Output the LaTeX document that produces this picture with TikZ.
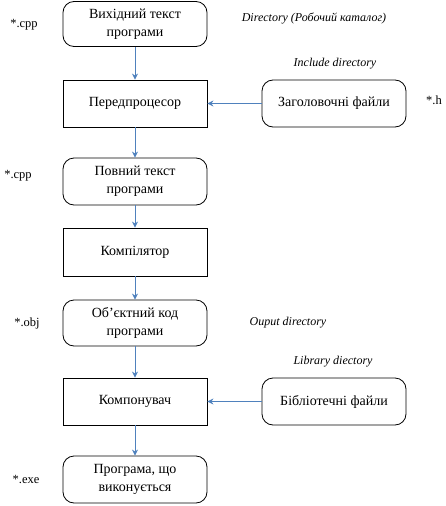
\documentclass[tikz,border=0pt]{standalone}
\usepackage{fontspec}
\newfontfamily\timesf{LiberationSerif-Regular.ttf}[ItalicFont=LiberationSerif-Italic.ttf]
\usetikzlibrary{arrows.meta}
\definecolor{arrowblue}{HTML}{4F81BD}
\begin{document}
\begin{tikzpicture}[x=1pt,y=-1pt,
  base/.style={draw=black, line width=0.8pt, minimum width=144pt, align=center, font=\timesf\fontsize{14}{18}\selectfont, inner sep=2pt},
  roundbox/.style={base, rounded corners=11pt, minimum height=45pt},
  rectbox/.style={base, minimum height=47pt},
  flow/.style={draw=arrowblue, line width=0.9pt, -{Stealth[length=6pt,width=6pt]}},
  ext/.style={font=\timesf\fontsize{12.5}{14}\selectfont},
  dirlabel/.style={font=\timesf\itshape\fontsize{12}{14}\selectfont}]
\useasboundingbox (0,0) rectangle (446,506);
\node[roundbox] (src) at (135,24) {Вихідний текст\\програми};
\node[rectbox] (pre) at (135,103.5) {Передпроцесор};
\node[roundbox, minimum height=47pt] (hdr) at (334,103.5) {Заголовочні файли};
\node[roundbox, minimum height=47pt] (full) at (135,181.5) {Повний текст\\програми};
\node[rectbox, minimum height=48pt] (comp) at (135,252) {Компілятор};
\node[roundbox, minimum height=46pt] (obj) at (135,323) {Об’єктний код\\програми};
\node[rectbox] (link) at (135,401.5) {Компонувач};
\node[roundbox, minimum height=47pt] (lib) at (334,401.5) {Бібліотечні файли};
\node[roundbox, minimum height=47pt] (exe) at (135,479.5) {Програма, що\\виконується};
\draw[flow] (src) -- (pre);
\draw[flow] (hdr) -- (pre);
\draw[flow] (pre) -- (full);
\draw[flow] (full) -- (comp);
\draw[flow] (comp) -- (obj);
\draw[flow] (obj) -- (link);
\draw[flow] (lib) -- (link);
\draw[flow] (link) -- (exe);
\node[ext] (e1) at (24,25) {*.cpp};
\node[ext] (e2) at (434,100) {*.h};
\node[ext] (e3) at (18,176) {*.cpp};
\node[ext] (e4) at (27,323) {*.obj};
\node[ext] (e5) at (26,479) {*.exe};
\node[dirlabel] (d1) at (314,18) {Directory (Робочий каталог)};
\node[dirlabel] (d2) at (335,64) {Include directory};
\node[dirlabel] (d3) at (288,323) {Ouput directory};
\node[dirlabel] (d4) at (333,362) {Library diectory};
\end{tikzpicture}
\end{document}
